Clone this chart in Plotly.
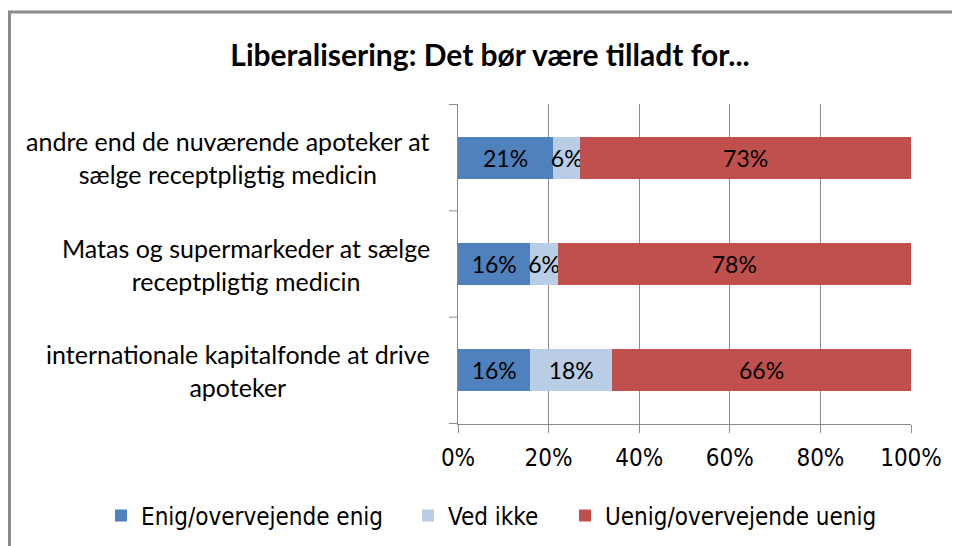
import plotly.graph_objects as go

categories = [
    "andre end de nuværende apoteker at<br>sælge receptpligtig medicin",
    "Matas og supermarkeder at sælge<br>receptpligtig medicin",
    "internationale kapitalfonde at drive<br>apoteker",
]
enig = [21, 16, 16]
ved_ikke = [6, 6, 18]
uenig = [73, 78, 66]
series_names = ["Enig/overvejende enig", "Ved ikke", "Uenig/overvejende uenig"]
colors = ["#4F81BD", "#B9CDE5", "#C0504D"]
tick_vals = [0, 20, 40, 60, 80, 100]
tick_text = ["0%", "20%", "40%", "60%", "80%", "100%"]
title_text = "Liberalisering: Det bør være tilladt for..."

FONT = "Lato"
NARROW = "Liberation Sans Narrow, DejaVu Sans Condensed, Lato"

# plot area in figure pixels (page is offset by the 8px body margin)
L, T, W, H = 450, 96, 453, 320
FW, FH = 952, 538


def px(xp):
    return (xp - L) / W


def py(yp):
    return (T + H - yp) / H


legend_ids = ["legend", "legend2", "legend3"]
legend_x = [93, 400, 557]

fig = go.Figure()
for name, vals, col, lid in zip(series_names, [enig, ved_ikke, uenig], colors, legend_ids):
    fig.add_trace(go.Bar(
        y=categories, x=vals, name=name, orientation="h", legend=lid,
        marker=dict(color=col, line=dict(width=0)),
        text=[f"{v}%" for v in vals], textposition="inside", textangle=0,
        insidetextanchor="middle", constraintext="none",
        textfont=dict(family=FONT, size=23, color="black"),
        width=0.395,
    ))

for c in categories:
    fig.add_annotation(
        x=0, xref="paper", y=c, yref="y", xanchor="right", xshift=-26,
        text=c, showarrow=False, align="center",
        font=dict(family=FONT, size=25, color="#000000"),
    )

# outer frame
frame = dict(color="#8c8c8c", width=3)
fig.add_shape(type="line", xref="paper", yref="paper", x0=px(1.5), x1=px(1.5),
              y0=py(3), y1=py(FH + 20), line=frame)
fig.add_shape(type="line", xref="paper", yref="paper", x0=px(0), x1=px(FW + 20),
              y0=py(4), y1=py(4), line=frame)

# category boundary ticks on the y axis
for yb in [-0.5, 0.5, 1.5, 2.5]:
    fig.add_shape(type="line", xref="paper", yref="y", x0=px(L - 9), x1=0, y0=yb, y1=yb,
                  line=dict(color="#8c8c8c", width=1))

legend_style = dict(orientation="h", xref="paper", xanchor="left", yref="paper",
                    y=py(508), yanchor="middle",
                    font=dict(family=NARROW, size=24, color="black"),
                    itemwidth=30, bgcolor="rgba(0,0,0,0)")

fig.update_layout(
    barmode="stack",
    width=FW, height=FH,
    margin=dict(l=L, r=FW - L - W, t=T, b=FH - T - H, autoexpand=False),
    paper_bgcolor="white", plot_bgcolor="white",
    title=dict(text=f"<b>{title_text}</b>", xref="container", x=482 / FW, xanchor="center",
               yref="container", y=1 - 47 / FH, yanchor="middle",
               font=dict(family=FONT, size=30, color="black")),
    showlegend=True,
    legend=dict(legend_style, x=px(legend_x[0])),
    legend2=dict(legend_style, x=px(legend_x[1])),
    legend3=dict(legend_style, x=px(legend_x[2])),
    font=dict(family=FONT),
)
fig.update_xaxes(
    range=[0, 100], tickvals=tick_vals, ticktext=tick_text,
    showgrid=True, gridcolor="#8c8c8c", gridwidth=1,
    showline=True, linecolor="#8c8c8c", linewidth=1,
    ticks="outside", ticklen=8, tickcolor="#8c8c8c", ticklabelstandoff=4,
    tickfont=dict(family=NARROW, size=24, color="#000000"), zeroline=False,
    fixedrange=True,
)
fig.update_yaxes(
    autorange="reversed", showticklabels=False,
    showline=True, linecolor="#8c8c8c", linewidth=1,
    ticks="", showgrid=False, fixedrange=True,
)

fig.write_html("out.html")
